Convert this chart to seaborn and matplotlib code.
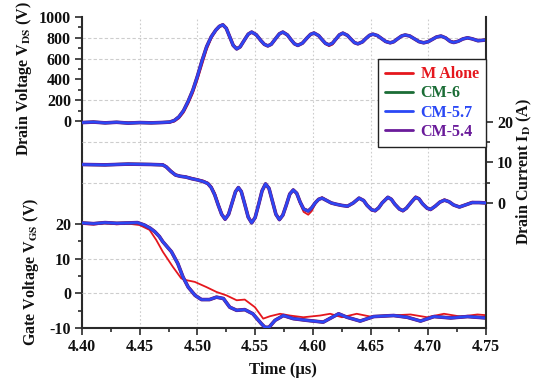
import matplotlib
matplotlib.use("Agg")
import matplotlib.pyplot as plt
from matplotlib.lines import Line2D
from matplotlib.ticker import FixedLocator, MultipleLocator, FormatStrFormatter
import seaborn as sns

# ---------------- data ----------------
series_names = ["M Alone", "CM-6", "CM-5.7", "CM-5.4"]
series_colors = ["#e5171d", "#1b6d36", "#2a48f5", "#6a1b9a"]

# Drain voltage V_DS (V)
t_vds = [4.400, 4.410, 4.420, 4.430, 4.440, 4.450, 4.460, 4.470, 4.476, 4.480,
         4.484, 4.488, 4.492, 4.496, 4.500, 4.504, 4.508, 4.512, 4.516, 4.519,
         4.522, 4.525, 4.528, 4.531, 4.534, 4.537, 4.541, 4.544, 4.547, 4.551,
         4.555, 4.558, 4.561, 4.564, 4.568, 4.571, 4.574, 4.578, 4.581, 4.584,
         4.587, 4.591, 4.595, 4.598, 4.601, 4.605, 4.608, 4.611, 4.614, 4.617,
         4.620, 4.623, 4.626, 4.630, 4.633, 4.636, 4.639, 4.643, 4.646, 4.649,
         4.652, 4.656, 4.660, 4.663, 4.667, 4.670, 4.674, 4.677, 4.680, 4.684,
         4.688, 4.692, 4.696, 4.700, 4.704, 4.707, 4.711, 4.715, 4.719, 4.722,
         4.726, 4.730, 4.734, 4.738, 4.743, 4.747, 4.750]
vds_m = [-12, -14, -10, -16, -15, -18, -12, -16, -14, -5,
         25, 80, 165, 265, 395, 540, 685, 795, 870, 908,
         925, 895, 815, 735, 700, 712, 780, 832, 856, 832,
         778, 738, 720, 735, 790, 836, 857, 830, 786, 742,
         724, 745, 795, 832, 848, 824, 785, 742, 720, 735,
         780, 826, 848, 825, 785, 750, 742, 760, 792, 822,
         832, 818, 786, 760, 748, 760, 792, 815, 824, 815,
         788, 762, 755, 766, 790, 808, 815, 802, 770, 762,
         770, 788, 798, 792, 778, 780, 782]
vds_cm57 = [-15, -10, -18, -12, -20, -15, -18, -14, -10, 5,
            40, 100, 190, 295, 430, 580, 715, 810, 875, 910,
            925, 891, 809, 727, 693, 713, 784, 835, 855, 829,
            773, 737, 722, 738, 796, 838, 855, 827, 783, 743,
            727, 749, 799, 833, 846, 821, 782, 746, 732, 748,
            788, 828, 845, 823, 787, 754, 742, 761, 794, 823,
            835, 821, 789, 765, 752, 762, 795, 818, 827, 817,
            790, 763, 752, 763, 788, 807, 817, 799, 765, 755,
            767, 789, 800, 790, 772, 776, 780]
vds_cm6 = list(vds_cm57)
vds_cm54 = list(vds_cm57)

# Drain current I_D (A)
t_id = [4.400, 4.420, 4.440, 4.460, 4.470, 4.473, 4.477, 4.481, 4.485, 4.490,
        4.495, 4.500, 4.505, 4.509, 4.512, 4.515, 4.518, 4.521, 4.524, 4.527,
        4.530, 4.533, 4.5355, 4.538, 4.541, 4.544, 4.547, 4.550, 4.553, 4.556,
        4.559, 4.562, 4.565, 4.568, 4.571, 4.574, 4.577, 4.580, 4.583, 4.586,
        4.589, 4.592, 4.596, 4.599, 4.602, 4.605, 4.608, 4.612, 4.616, 4.620,
        4.625, 4.630, 4.635, 4.640, 4.644, 4.647, 4.651, 4.654, 4.657, 4.660,
        4.665, 4.668, 4.671, 4.675, 4.678, 4.681, 4.685, 4.689, 4.692, 4.695,
        4.699, 4.702, 4.706, 4.710, 4.714, 4.718, 4.722, 4.727, 4.732, 4.738,
        4.744, 4.750]
id_m = [9.6, 9.5, 9.4, 9.6, 9.5, 9.1, 8.0, 7.1, 6.7, 6.5,
        6.2, 5.8, 5.5, 5.0, 4.1, 2.5, 0.0, -2.5, -4.2, -3.0,
        -0.3, 2.6, 3.8, 3.0, 0.0, -3.3, -4.9, -3.8, -0.6, 2.8,
        4.8, 3.8, 0.6, -2.7, -4.3, -3.2, -0.6, 2.0, 3.3, 2.3,
        -0.2, -2.2, -2.9, -2.0, -0.3, 0.9, 1.4, 0.7, 0.1, -0.3,
        -0.5, -0.9, -0.1, 1.1, 0.7, -0.5, -1.8, -2.1, -1.3, 0.1,
        1.5, 1.0, -0.2, -1.6, -2.1, -1.4, 0.2, 1.6, 1.2, -0.1,
        -1.4, -1.8, -0.9, 0.3, 0.9, 0.4, -0.5, -0.9, -0.4, 0.3,
        0.2, 0.0]
id_cm57 = [9.5, 9.4, 9.6, 9.5, 9.4, 8.9, 7.8, 6.9, 6.6, 6.4,
           6.0, 5.7, 5.3, 4.8, 3.8, 2.0, -0.5, -2.8, -4.0, -2.8,
           0.0, 2.8, 3.8, 2.8, -0.3, -3.5, -4.9, -3.6, -0.4, 3.0,
           4.7, 3.6, 0.4, -2.8, -4.1, -3.0, -0.5, 2.2, 3.2, 2.4,
           0.2, -1.5, -2.0, -1.2, 0.0, 0.9, 1.2, 0.6, 0.0, -0.3,
           -0.6, -0.8, 0.0, 1.2, 0.6, -0.6, -1.7, -1.9, -1.2, 0.0,
           1.4, 0.9, -0.3, -1.5, -1.9, -1.3, 0.1, 1.4, 1.0, -0.2,
           -1.3, -1.6, -0.8, 0.2, 0.7, 0.3, -0.5, -1.0, -0.5, 0.1,
           0.1, 0.0]
id_cm6 = list(id_cm57)
id_cm54 = list(id_cm57)

# Gate voltage V_GS (V)
t_vgs_m = [4.400, 4.410, 4.420, 4.430, 4.440, 4.4498, 4.4585, 4.4643, 4.470, 4.4788,
           4.486, 4.4904, 4.4977, 4.5078, 4.5165, 4.5252, 4.534, 4.541, 4.5498, 4.557,
           4.5629, 4.5716, 4.580, 4.5918, 4.6063, 4.615, 4.6252, 4.638, 4.6498, 4.667,
           4.6846, 4.699, 4.7136, 4.728, 4.7426, 4.750]
vgs_m = [20.0, 19.8, 20.2, 19.9, 20.1, 19.7, 18.3, 15.4, 12.0, 7.6,
         4.3, 3.8, 3.3, 1.8, 0.4, -0.6, -2.0, -1.8, -4.0, -7.3,
         -6.6, -5.9, -6.4, -6.9, -6.4, -5.9, -6.9, -5.9, -6.7, -6.4,
         -6.1, -6.9, -5.9, -6.7, -6.1, -6.3]
t_vgs_cm = [4.400, 4.410, 4.420, 4.430, 4.440, 4.448, 4.454, 4.459, 4.463, 4.467,
            4.470, 4.4775, 4.483, 4.4875, 4.492, 4.498, 4.5035, 4.5105, 4.5165, 4.5225,
            4.528, 4.534, 4.541, 4.548, 4.5555, 4.5585, 4.562, 4.5672, 4.5745, 4.583,
            4.595, 4.609, 4.6223, 4.6296, 4.641, 4.6527, 4.670, 4.6817, 4.6933, 4.705,
            4.7194, 4.734, 4.750]
vgs_cm57 = [20.3, 20.1, 20.4, 20.2, 20.3, 20.4, 19.7, 18.8, 17.8, 16.4,
            14.9, 12.0, 8.6, 4.7, 1.8, -0.6, -1.8, -1.8, -1.1, -1.5,
            -4.0, -4.9, -4.7, -5.9, -8.8, -9.8, -9.8, -7.8, -6.4, -7.3,
            -7.8, -8.3, -5.9, -6.9, -8.0, -6.7, -6.4, -6.9, -8.0, -6.7,
            -7.1, -6.7, -7.1]
vgs_cm6 = list(vgs_cm57)
vgs_cm54 = list(vgs_cm57)

# ---------------- style ----------------
sns.set_theme(style="white")
plt.rcParams["font.family"] = ["Liberation Serif", "DejaVu Serif"]
plt.rcParams["font.weight"] = "bold"
plt.rcParams["mathtext.fontset"] = "stix"
plt.rcParams["axes.unicode_minus"] = False

W, H = 535, 384
fig = plt.figure(figsize=(W / 100, H / 100), dpi=100)
rect = [82 / W, 56 / H, 404 / W, 311 / H]
ax_v = fig.add_axes(rect)
ax_g = fig.add_axes(rect, sharex=ax_v)
ax_i = ax_v.twinx()
for a in (ax_g, ax_i):
    a.patch.set_visible(False)

ax_v.set_xlim(4.40, 4.75)
ax_v.set_ylim(-1990, 1000)
ax_g.set_ylim(-10, 79.7)
ax_i.set_ylim(-30.86, 45.9)

grid_col = "#cdcdcd"
ax_v.xaxis.set_major_locator(MultipleLocator(0.05))
ax_v.xaxis.set_minor_locator(MultipleLocator(0.025))
ax_v.xaxis.set_major_formatter(FormatStrFormatter("%.2f"))
ax_v.grid(axis="x", which="major", color=grid_col, linestyle=(0, (1.5, 2)), linewidth=0.8)
ax_v.grid(axis="y", visible=False)
ax_v.set_axisbelow(True)
for v in (200, 600, 800):
    ax_v.axhline(v, color=grid_col, linestyle=(0, (3, 2)), linewidth=0.8, zorder=0.5)
for v in (15, 5):
    ax_i.axhline(v, color=grid_col, linestyle=(0, (3, 2)), linewidth=0.8, zorder=0.5)
for v in (20, 10, 0):
    ax_g.axhline(v, color=grid_col, linestyle=(0, (3, 2)), linewidth=0.8, zorder=0.5)

# ---------------- traces ----------------
lws = [1.3, 2.2, 1.7, 2.6]
draw_order = [0, 1, 3, 2]
vds_all = [vds_m, vds_cm6, vds_cm57, vds_cm54]
id_all = [id_m, id_cm6, id_cm57, id_cm54]
vgs_all = [vgs_m, vgs_cm6, vgs_cm57, vgs_cm54]
vgs_t = [t_vgs_m, t_vgs_cm, t_vgs_cm, t_vgs_cm]
for z, k in enumerate(draw_order):
    kw = dict(color=series_colors[k], linewidth=lws[k], estimator=None,
              sort=False, legend=False, zorder=2 + z)
    sns.lineplot(x=t_vds, y=vds_all[k], ax=ax_v, **kw)
    sns.lineplot(x=t_id, y=id_all[k], ax=ax_i, **kw)
    sns.lineplot(x=vgs_t[k], y=vgs_all[k], ax=ax_g, **kw)

for a in (ax_v, ax_g, ax_i):
    a.set_xlabel("")
    a.set_ylabel("")

# ---------------- axes decoration ----------------
spine_col = "#2a2a2a"
for s in ("top", "right"):
    ax_v.spines[s].set_visible(False)
for s in ("left", "bottom"):
    ax_v.spines[s].set_color(spine_col)
    ax_v.spines[s].set_linewidth(1.5)
for s in ax_g.spines.values():
    s.set_visible(False)
for s in ("top", "left", "bottom"):
    ax_i.spines[s].set_visible(False)
ax_i.spines["right"].set_color(spine_col)
ax_i.spines["right"].set_linewidth(1.5)

ax_v.yaxis.set_major_locator(FixedLocator([0, 200, 400, 600, 800, 1000]))
ax_v.yaxis.set_minor_locator(FixedLocator([100, 300, 500, 700, 900]))
ax_g.yaxis.set_major_locator(FixedLocator([-10, 0, 10, 20]))
ax_g.yaxis.set_minor_locator(FixedLocator([-5, 5, 15]))
ax_i.yaxis.set_major_locator(FixedLocator([0, 10, 20]))
ax_i.yaxis.set_minor_locator(FixedLocator([5, 15]))

tick_kw = dict(direction="out", width=1.2, colors=spine_col, labelsize=11.5, pad=3,
               labelcolor="#111111")
ax_v.tick_params(axis="both", which="major", length=5, bottom=True, left=True, **tick_kw)
ax_v.tick_params(axis="both", which="minor", length=3, bottom=True, left=True, **tick_kw)
ax_g.tick_params(axis="y", which="major", length=5, left=True, right=False, **tick_kw)
ax_g.tick_params(axis="y", which="minor", length=3, left=True, right=False, **tick_kw)
ax_g.tick_params(axis="x", which="both", bottom=False, labelbottom=False)
ax_i.tick_params(axis="y", which="major", length=5, right=True, left=False, **tick_kw)
ax_i.tick_params(axis="y", which="minor", length=3, right=True, left=False, **tick_kw)
ax_i.tick_params(axis="x", which="both", bottom=False, top=False, labelbottom=False)

# ---------------- labels ----------------
lab_kw = dict(fontsize=11.5, fontweight="bold", color="#111111", ha="center", va="center")
fig.text(24 / W, 1 - 79 / H, r"Drain Voltage V$_{\mathbf{DS}}$ (V)", rotation=90, **lab_kw)
fig.text(31 / W, 1 - 272 / H, r"Gate Voltage V$_{\mathbf{GS}}$ (V)", rotation=90, **lab_kw)
fig.text(524 / W, 1 - 172 / H, r"Drain Current I$_{\mathbf{D}}$ (A)", rotation=90, **lab_kw)
fig.text(283 / W, 1 - 370 / H, "Time (µs)", fontsize=12, fontweight="bold",
         color="#111111", ha="center", va="center")

# ---------------- legend ----------------
handles = [Line2D([], [], color=c, lw=2) for c in series_colors]
leg = ax_i.legend(handles, series_names, loc="upper right", bbox_to_anchor=(1.0, 0.865),
                  frameon=True, fancybox=False, edgecolor="#222222", framealpha=1,
                  borderaxespad=0, handlelength=1.75, handletextpad=0.5,
                  labelspacing=0.2, borderpad=0.45,
                  prop={"weight": "bold", "size": 11.5})
leg.get_frame().set_linewidth(1.0)
for txt, c in zip(leg.get_texts(), series_colors):
    txt.set_color(c)

fig.savefig("out.png", dpi=100)
